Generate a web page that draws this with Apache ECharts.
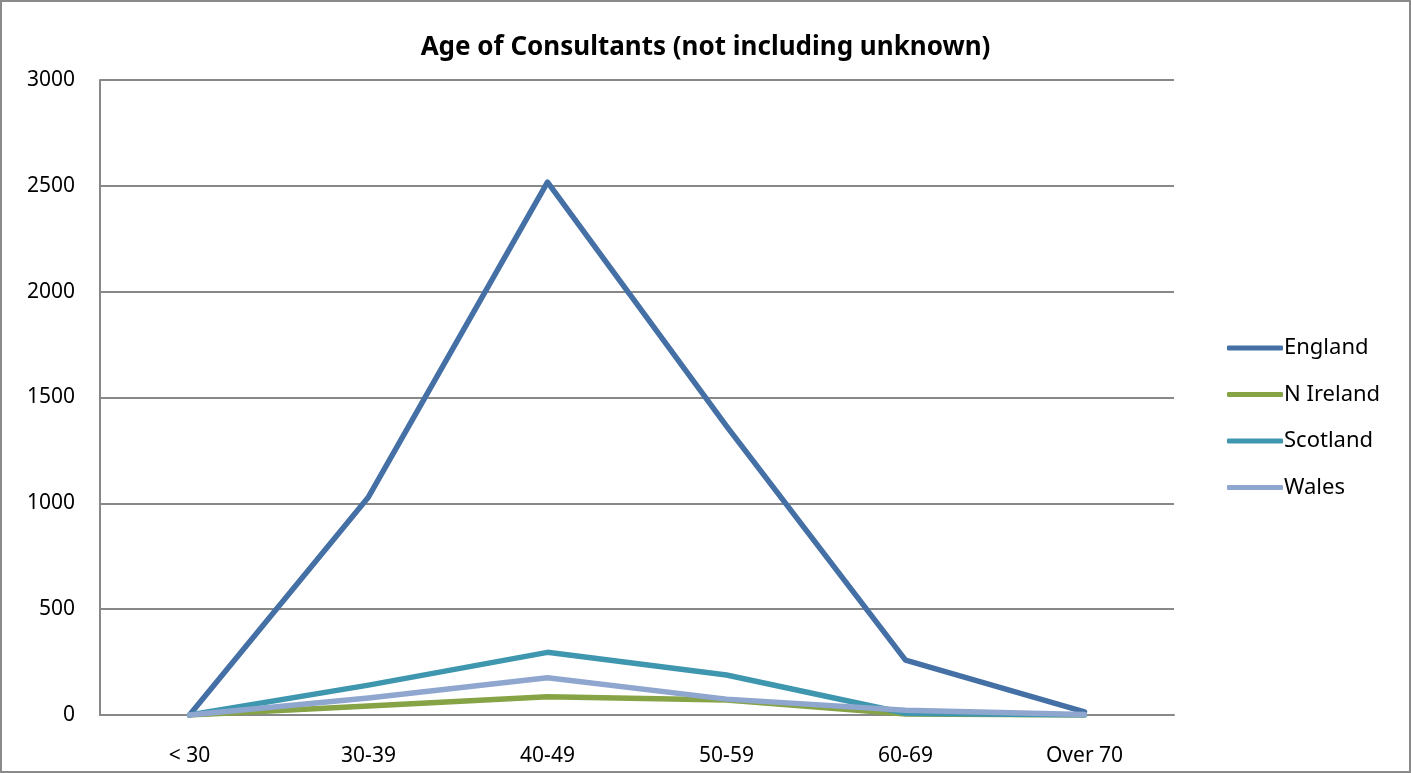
<!DOCTYPE html>
<html>
<head>
<meta charset="utf-8">
<script src="https://cdn.jsdelivr.net/npm/echarts@6/dist/echarts.min.js"></script>
<style>
html,body{margin:0;padding:0;background:#fff;}
#c{width:1411px;height:773px;}
</style>
</head>
<body>
<div id="c"></div>
<script>
var categories = ['< 30', '30-39', '40-49', '50-59', '60-69', 'Over 70'];
var england = [0, 1030, 2518, 1365, 259, 15];
var nIreland = [0, 42, 86, 71, 5, 0];
var scotland = [0, 141, 296, 189, 8, 0];
var wales = [0, 80, 176, 75, 22, 2];
var seriesNames = ['England', 'N Ireland', 'Scotland', 'Wales'];
var seriesColors = ['#4470A6', '#86A345', '#3F97AF', '#8FA7CF'];
var seriesData = [england, nIreland, scotland, wales];

var FONT = '"Noto Sans", sans-serif';
var chart = echarts.init(document.getElementById('c'), null, {renderer: 'canvas'});
chart.setOption({
  animation: false,
  backgroundColor: '#fff',
  title: {
    text: 'Age of Consultants (not including unknown)',
    left: 'center',
    top: 30,
    textStyle: {fontFamily: FONT, fontWeight: 'bold', fontSize: 26, color: '#000'}
  },
  legend: {
    orient: 'vertical',
    left: 1222,
    top: 332,
    itemWidth: 56,
    itemHeight: 5,
    itemGap: 24.5,
    icon: 'roundRect',
    data: seriesNames,
    textStyle: {fontFamily: FONT, fontSize: 22, color: '#000', padding: [0, 0, 0, -4]}
  },
  grid: {left: 100, right: 237, top: 80, bottom: 58, containLabel: false},
  xAxis: {
    type: 'category',
    data: categories,
    boundaryGap: true,
    axisLine: {show: true, lineStyle: {color: '#888', width: 2}},
    axisTick: {show: false},
    axisLabel: {fontFamily: FONT, fontSize: 21, color: '#000', margin: 31}
  },
  yAxis: {
    type: 'value',
    min: 0,
    max: 3000,
    interval: 500,
    axisLine: {show: true, lineStyle: {color: '#888', width: 2}},
    axisTick: {show: false},
    splitLine: {show: true, lineStyle: {color: '#888', width: 2}},
    axisLabel: {fontFamily: FONT, fontSize: 21, color: '#000', margin: 25, formatter: function (v) { return String(v); }}
  },
  series: seriesNames.map(function (n, i) {
    return {
      name: n,
      type: 'line',
      data: seriesData[i],
      symbol: 'none',
      color: seriesColors[i],
      lineStyle: {width: 5.5, color: seriesColors[i], cap: 'round', join: 'round'}
    };
  }),
  graphic: [{
    type: 'rect',
    shape: {x: 1, y: 1, width: 1409, height: 771},
    style: {fill: 'none', stroke: '#8a8a8a', lineWidth: 2},
    silent: true
  }]
});
</script>
</body>
</html>
